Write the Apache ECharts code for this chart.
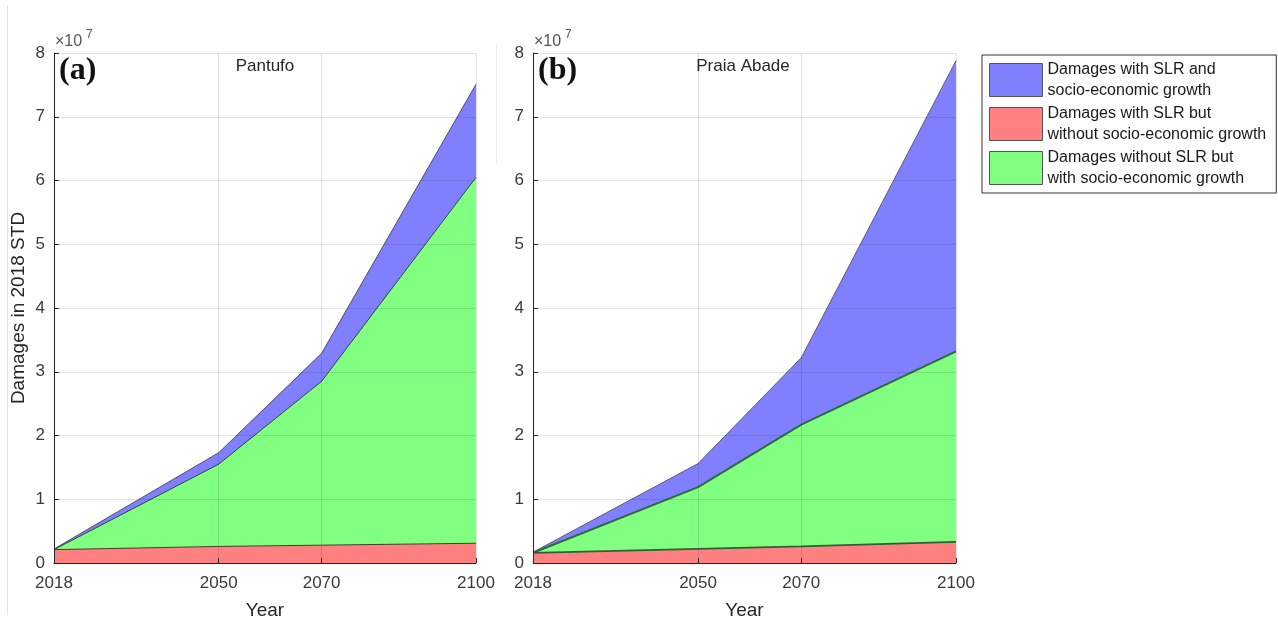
<!DOCTYPE html>
<html>
<head>
<meta charset="utf-8">
<script src="https://cdn.jsdelivr.net/npm/echarts@6/dist/echarts.min.js"></script>
<style>
html,body{margin:0;padding:0;background:#fff;}
#chart{width:1278px;height:620px;}
</style>
</head>
<body>
<div id="chart"></div>
<script>
// ---- data (values in units of 1e7; cumulative upper edge of each coloured band, as read) ----
var years = [2018, 2050, 2070, 2100];
var xTicks = [2018, 2050, 2070, 2100];
var seriesNames = [
  'Damages with SLR and\nsocio-economic growth',
  'Damages with SLR but\nwithout socio-economic growth',
  'Damages without SLR but\nwith socio-economic growth'
];
var panelTitles = ['Pantufo', 'Praia Abade'];
var panelLabels = ['(a)', '(b)'];
// Panel (a) Pantufo
var aRedTop   = [0.21, 0.26, 0.28, 0.31];
var aGreenTop = [0.21, 1.55, 2.85, 6.05];
var aBlueTop  = [0.22, 1.73, 3.29, 7.51];
// Panel (b) Praia Abade
var bRedTop   = [0.16, 0.22, 0.26, 0.33];
var bGreenTop = [0.16, 1.19, 2.17, 3.32];
var bBlueTop  = [0.17, 1.56, 3.22, 7.88];

var FONT = '"Liberation Sans", Arial, Helvetica, sans-serif';
var TXT = '#262626';
var TICK = '#3a3a3a';

function pairs(vals){ return years.map(function(y,i){ return [y, vals[i]]; }); }

var grids = [
  {left: 54, right: 802, top: 53, bottom: 57, outerBoundsMode: 'none', containLabel: false},
  {left: 533, right: 322, top: 53, bottom: 57, outerBoundsMode: 'none', containLabel: false}
];

function xAx(i){
  return {
    type: 'value', gridIndex: i, min: 2018, max: 2100,
    name: 'Year', nameLocation: 'middle', nameGap: 38,
    nameTextStyle: {fontFamily: FONT, fontSize: 19, color: TXT},
    axisLine: {show: true, onZero: false, lineStyle: {color: '#262626', width: 1}},
    axisTick: {show: true, inside: true, length: 5, customValues: xTicks, lineStyle: {color: '#262626'}},
    axisLabel: {customValues: xTicks, fontFamily: FONT, fontSize: 17, color: TICK, margin: 12,
      formatter: function(v){ return String(v); }},
    splitLine: {show: true, lineStyle: {color: 'rgba(0,0,0,0.11)', width: 1}},
    z: 10
  };
}
function yAx(i){
  return {
    type: 'value', gridIndex: i, min: 0, max: 8, interval: 1,
    name: i === 0 ? 'Damages in 2018 STD' : '', nameLocation: 'middle', nameGap: 26,
    nameTextStyle: {fontFamily: FONT, fontSize: 19, color: TXT},
    axisLine: {show: true, lineStyle: {color: '#262626', width: 1}},
    axisTick: {show: true, inside: true, length: 5, lineStyle: {color: '#262626'}},
    axisLabel: {fontFamily: FONT, fontSize: 17, color: TICK, margin: 9},
    splitLine: {show: true, lineStyle: {color: 'rgba(0,0,0,0.11)', width: 1}},
    z: 10
  };
}

var fills = {blue: '#8080ff', red: '#ff8080', green: '#80ff80'};

function mk(name, vals, idx, fill, lineColor, lineWidth, z){
  return {
    name: name, type: 'line', xAxisIndex: idx, yAxisIndex: idx,
    data: pairs(vals), showSymbol: false, symbol: 'none', smooth: false,
    lineStyle: {color: lineColor, width: lineWidth},
    itemStyle: {color: fill},
    areaStyle: {color: fill, opacity: 1, origin: 'start'},
    emphasis: {disabled: true},
    z: z
  };
}

var series = [
  mk(seriesNames[0], aBlueTop, 0, fills.blue, '#333344', 0.8, 2),
  mk(seriesNames[2], aGreenTop, 0, fills.green, '#1a2a1a', 0.8, 3),
  mk(seriesNames[1], aRedTop, 0, fills.red, '#2a1a1a', 0.8, 4),
  mk(seriesNames[0], bBlueTop, 1, fills.blue, '#444455', 0.8, 2),
  mk(seriesNames[2], bGreenTop, 1, fills.green, '#2f6a3c', 2, 3),
  mk(seriesNames[1], bRedTop, 1, fills.red, '#2f5f3a', 1.8, 4)
];

var legendFill = ['#8080ff', '#ff8080', '#80ff80'];

var graphic = [
  {type: 'line', shape: {x1: 7.5, y1: 5, x2: 7.5, y2: 615}, style: {stroke: '#e2e2e2', lineWidth: 1}, silent: true},
  {type: 'line', shape: {x1: 496.5, y1: 45, x2: 496.5, y2: 163}, style: {stroke: '#ececec', lineWidth: 1}, silent: true}
];
[54, 533].forEach(function(x0, i){
  graphic.push({type: 'text', left: x0 + 1, top: 34, style: {text: '×10', font: '16px ' + FONT, fill: '#555'}, z: 20});
  graphic.push({type: 'text', left: x0 + 32, top: 29, style: {text: '7', font: '12px ' + FONT, fill: '#555'}, z: 20});
  graphic.push({type: 'text', left: x0 + 5, top: 55, style: {text: panelLabels[i], font: 'bold 32px "Liberation Serif", "Times New Roman", serif', fill: '#111'}, z: 20});
});
graphic.push({type: 'text', x: 265, y: 66, style: {text: panelTitles[0], font: '17px ' + FONT, fill: TXT, align: 'center', verticalAlign: 'middle'}, z: 20});
graphic.push({type: 'text', x: 743, y: 66, style: {text: panelTitles[1], font: '17px ' + FONT, fill: TXT, align: 'center', verticalAlign: 'middle'}, z: 20});

var option = {
  backgroundColor: '#fff',
  animation: false,
  grid: grids,
  xAxis: [xAx(0), xAx(1)],
  yAxis: [yAx(0), yAx(1)],
  legend: {
    orient: 'vertical', left: 982, top: 55,
    padding: [4, 10, 4, 7],
    itemWidth: 53, itemHeight: 33, itemGap: 2,
    borderColor: '#333', borderWidth: 1,
    selectedMode: false,
    textStyle: {fontFamily: FONT, fontSize: 16, color: '#1a1a1a', lineHeight: 21},
    data: seriesNames.map(function(n, i){
      return {name: n, icon: 'rect', itemStyle: {color: legendFill[i], borderColor: '#555', borderWidth: 1}};
    })
  },
  graphic: graphic,
  series: series
};

var chart = echarts.init(document.getElementById('chart'), null, {renderer: 'canvas'});
chart.setOption(option);
</script>
</body>
</html>
